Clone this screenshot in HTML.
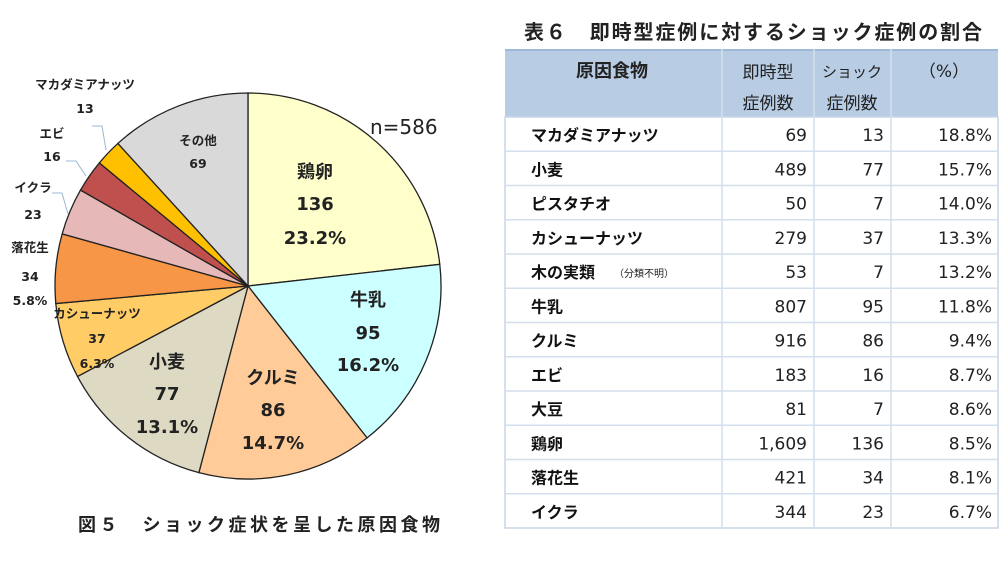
<!DOCTYPE html>
<html><head><meta charset="utf-8"><style>
body{margin:0;background:#fff;width:1000px;height:563px;overflow:hidden}
svg{display:block}
text{font-family:"DejaVu Sans","Noto Sans CJK JP",sans-serif}
</style></head><body>
<svg id="s" width="1000" height="563" xmlns="http://www.w3.org/2000/svg">
<g id="pie"></g>
<g font-weight="bold" fill="#222" text-anchor="middle">
<text x="315" y="178" font-size="18">鶏卵</text>
<text x="315" y="210" font-size="18">136</text>
<text x="315" y="244" font-size="18">23.2%</text>
<text x="368" y="306" font-size="18">牛乳</text>
<text x="368" y="339" font-size="18">95</text>
<text x="368" y="371" font-size="18">16.2%</text>
<text x="273" y="384" font-size="18">クルミ</text>
<text x="273" y="416" font-size="18">86</text>
<text x="273" y="449" font-size="18">14.7%</text>
<text x="167" y="368" font-size="18">小麦</text>
<text x="167" y="400" font-size="18">77</text>
<text x="167" y="433" font-size="18">13.1%</text>
<text x="97" y="318" font-size="12.5">カシューナッツ</text>
<text x="97" y="343" font-size="12.5">37</text>
<text x="97" y="368" font-size="12.5">6.3%</text>
<text x="30" y="252" font-size="12.5">落花生</text>
<text x="30" y="281" font-size="12.5">34</text>
<text x="30" y="305" font-size="12.5">5.8%</text>
<text x="33" y="192" font-size="12.5">イクラ</text>
<text x="33" y="219" font-size="12.5">23</text>
<text x="52" y="138" font-size="12.5">エビ</text>
<text x="52" y="161" font-size="12.5">16</text>
<text x="85" y="89" font-size="12.5">マカダミアナッツ</text>
<text x="85" y="113" font-size="12.5">13</text>
<text x="198" y="145" font-size="12.5">その他</text>
<text x="198" y="168" font-size="12.5">69</text>
</g>
<g stroke="#9bb7d4" fill="none" stroke-width="1">
<polyline points="92,126 102,126 106,150"/>
<polyline points="66,161 76,161 86,176"/>
<polyline points="52,193 62,193 68,214"/>
</g>
<text x="370" y="134" font-size="20" fill="#222">n=586</text>
<text x="78" y="531" font-size="18" letter-spacing="3.5" font-weight="bold" fill="#222">図５　ショック症状を呈した原因食物</text>
<text x="524" y="39" font-size="20" letter-spacing="1.9" font-weight="bold" fill="#222">表６　即時型症例に対するショック症例の割合</text>
<g id="tbl"></g>
</svg>
<script>
var NS="http://www.w3.org/2000/svg";
function el(p,t,a,txt){var e=document.createElementNS(NS,t);for(var k in a)e.setAttribute(k,a[k]);if(txt!=null)e.textContent=txt;p.appendChild(e);return e;}
var cx=248,cy=286,r=193;
var d=[[136,"#FFFFCC"],[95,"#CCFFFF"],[86,"#FFCC99"],[77,"#DDD9C3"],[37,"#FFCC66"],[34,"#F79646"],[23,"#E6B9B8"],[16,"#C0504D"],[13,"#FFC000"],[69,"#D9D9D9"]];
var tot=586,a=0,g=document.getElementById("pie");
d.forEach(function(s){var a2=a+s[0]/tot*2*Math.PI;
var x1=cx+r*Math.sin(a),y1=cy-r*Math.cos(a),x2=cx+r*Math.sin(a2),y2=cy-r*Math.cos(a2);
el(g,"path",{d:"M"+cx+","+cy+"L"+x1+","+y1+"A"+r+","+r+" 0 "+((a2-a)>Math.PI?1:0)+" 1 "+x2+","+y2+"Z",fill:s[1],stroke:"#222","stroke-width":"1.3"});a=a2;});
var t=document.getElementById("tbl");
var L=505,R=998,c1=722,c2=814,c3=891,tp=49,hb=117,rh=34.25;
el(t,"rect",{x:L,y:tp,width:R-L,height:hb-tp,fill:"#B8CCE4"});
el(t,"rect",{x:L,y:hb,width:R-L,height:rh*12,fill:"#fff",stroke:"#c9d6e6","stroke-width":"1.5"});
el(t,"line",{x1:L,y1:tp+1,x2:R,y2:tp+1,stroke:"#9fb8d6","stroke-width":"2"});
[c1,c2,c3].forEach(function(x){el(t,"line",{x1:x,y1:tp,x2:x,y2:hb+rh*12,stroke:"#d3dfec","stroke-width":"1.5"});});
for(var i=1;i<12;i++)el(t,"line",{x1:L,y1:hb+rh*i,x2:R,y2:hb+rh*i,stroke:"#d3dfec","stroke-width":"1.5"});
el(t,"text",{x:612,y:77,"font-size":"18","font-weight":"bold","text-anchor":"middle",fill:"#222"},"原因食物");
el(t,"text",{x:768,y:78,"font-size":"17","text-anchor":"middle",fill:"#222"},"即時型");
el(t,"text",{x:768,y:109,"font-size":"17","text-anchor":"middle",fill:"#222"},"症例数");
el(t,"text",{x:852,y:77,"font-size":"15","text-anchor":"middle",fill:"#222"},"ショック");
el(t,"text",{x:852,y:109,"font-size":"17","text-anchor":"middle",fill:"#222"},"症例数");
el(t,"text",{x:944,y:77,"font-size":"17","text-anchor":"middle",fill:"#222"},"（%）");
var rows=[["マカダミアナッツ","69","13","18.8%"],["小麦","489","77","15.7%"],["ピスタチオ","50","7","14.0%"],["カシューナッツ","279","37","13.3%"],["木の実類","53","7","13.2%"],["牛乳","807","95","11.8%"],["クルミ","916","86","9.4%"],["エビ","183","16","8.7%"],["大豆","81","7","8.6%"],["鶏卵","1,609","136","8.5%"],["落花生","421","34","8.1%"],["イクラ","344","23","6.7%"]];
rows.forEach(function(w,i){var y=hb+rh*i+24;
el(t,"text",{x:531,y:y,"font-size":"16","font-weight":"bold",fill:"#111"},w[0]);
if(i==4)el(t,"text",{x:614,y:y-1,"font-size":"10",fill:"#222"},"（分類不明）");
el(t,"text",{x:807,y:y,"font-size":"17","text-anchor":"end",fill:"#222"},w[1]);
el(t,"text",{x:884,y:y,"font-size":"17","text-anchor":"end",fill:"#222"},w[2]);
el(t,"text",{x:992,y:y,"font-size":"17","text-anchor":"end",fill:"#222"},w[3]);});
</script>
</body></html>
